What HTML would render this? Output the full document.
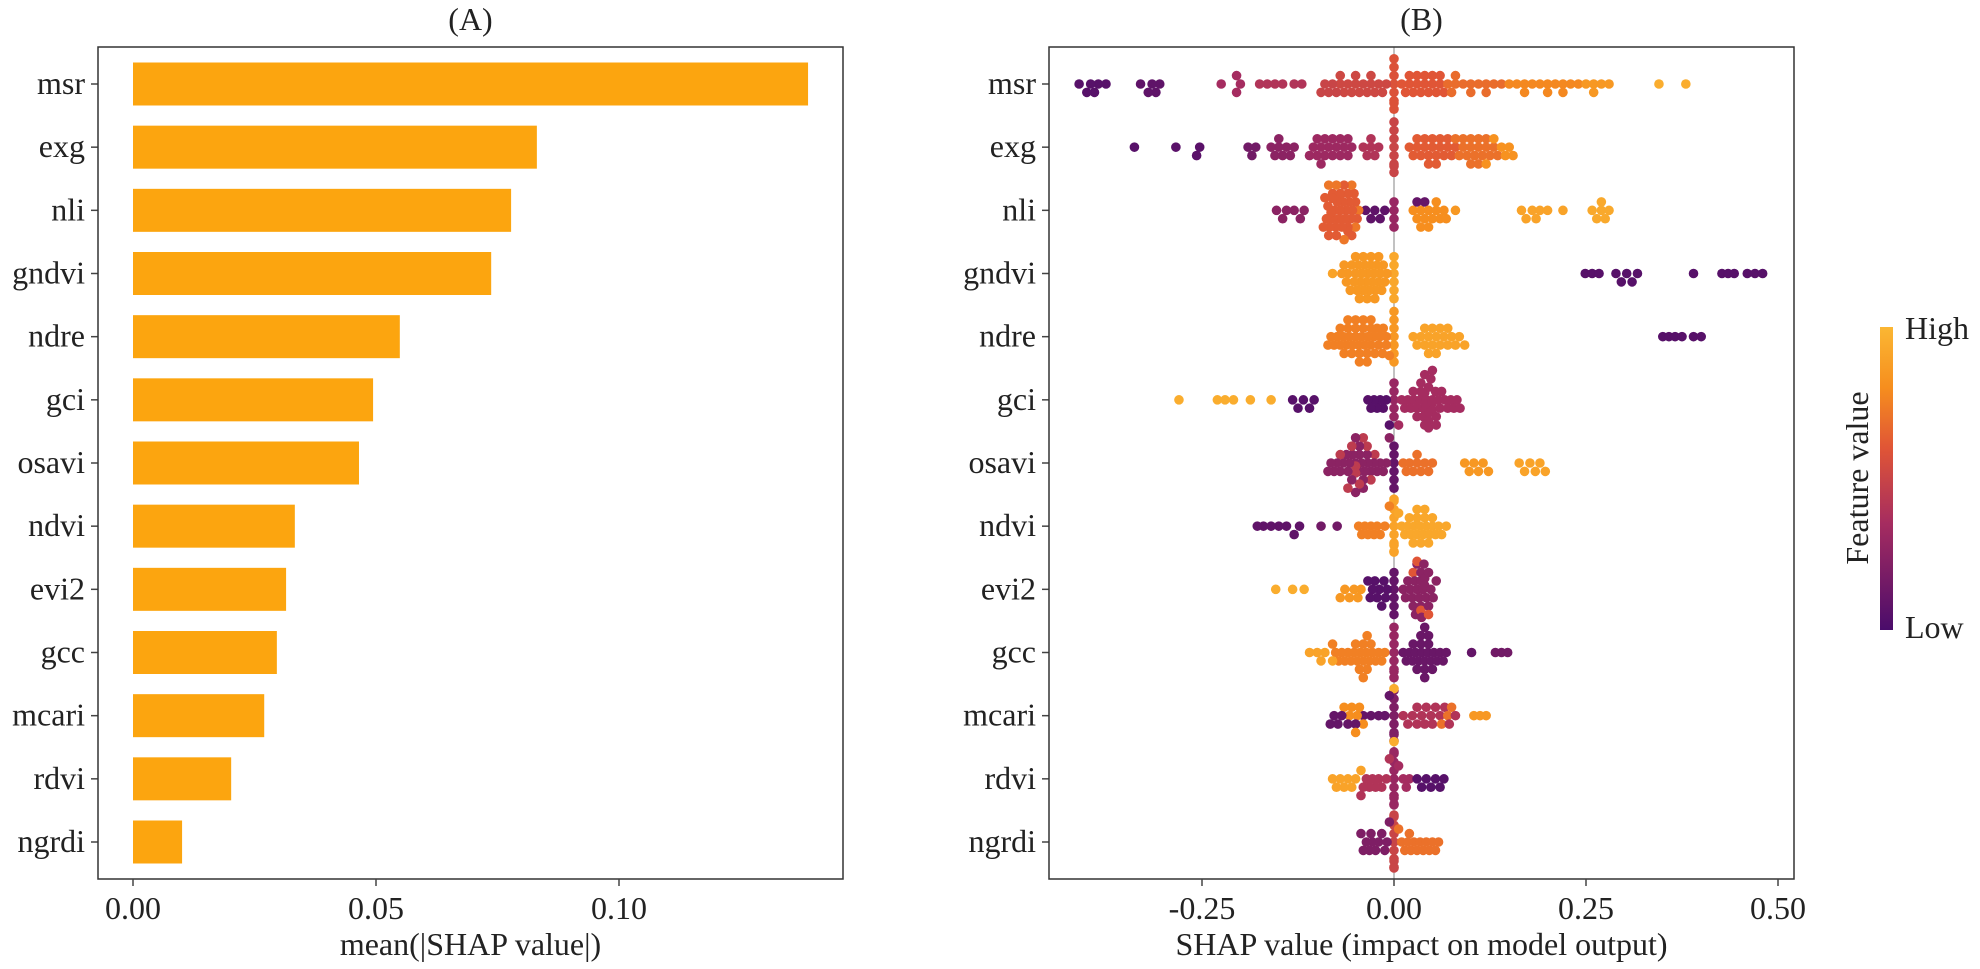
<!DOCTYPE html>
<html><head><meta charset="utf-8"><style>
html,body{margin:0;padding:0;background:#fff;}
svg text{font-family:"Liberation Serif",serif;fill:#222;}
</style></head><body>
<svg id="c" width="1980" height="964" xmlns="http://www.w3.org/2000/svg">
<defs><linearGradient id="cb" x1="0" y1="1" x2="0" y2="0">
<stop offset="0" stop-color="#4a0c6b"/><stop offset="0.35" stop-color="#a52c60"/><stop offset="0.6" stop-color="#e05536"/><stop offset="0.8" stop-color="#f68e1e"/><stop offset="1" stop-color="#fbb733"/></linearGradient></defs>
<g id="pa"></g>
<g id="pb"></g>
<g>
<rect x="1880" y="327" width="13" height="303" fill="url(#cb)"/>
<text x="1905" y="339" font-size="32">High</text>
<text x="1905" y="638" font-size="32">Low</text>
<text transform="translate(1868,478) rotate(-90)" text-anchor="middle" font-size="32">Feature value</text>
</g>
</svg>
<script>
const features = ["msr","exg","nli","gndvi","ndre","gci","osavi","ndvi","evi2","gcc","mcari","rdvi","ngrdi"];
const meanAbs = [0.1389,0.0831,0.0778,0.0737,0.0549,0.0494,0.0465,0.0333,0.0315,0.0296,0.0270,0.0202,0.0101];
const ticksA = [0, 0.05, 0.10];
const tickLabelsA = ["0.00","0.05","0.10"];
const ticksB = [-0.25, 0, 0.25, 0.5];
const tickLabelsB = ["-0.25","0.00","0.25","0.50"];
const msrPts = [[0.05,"-0.41 -0.40 -0.395 -0.39 -0.385 -0.375"],[0.08,"-0.33 -0.32 -0.315 -0.31 -0.305"],[0.35,"-0.225 -0.205 -0.205 -0.2"],[0.4,"-0.175 -0.165 -0.155 -0.145 -0.13 -0.12"],[0.5,"-0.095 -0.09 -0.085 -0.08 -0.075"],[0.52,"-0.07 -0.065 -0.06 -0.055 -0.05 -0.045 -0.04 -0.035 -0.03 -0.025 -0.02 -0.015 -0.01 -0.07 -0.05 -0.03"],[0.58,"0 0 0 0 0 0 0 0"],[0.6,"0.01 0.015 0.02 0.025 0.03 0.035 0.04 0.045 0.05 0.055 0.06 0.065 0.02 0.03 0.04 0.05 0.06"],[0.68,"0.07 0.075 0.08 0.09 0.1 0.11 0.12 0.13 0.14 0.08 0.1 0.12"],[0.78,"0.15 0.16 0.17 0.18 0.19 0.2 0.21 0.22 0.23 0.24 0.17 0.2 0.22"],[0.85,"0.25 0.26 0.27 0.28 0.26"],[0.95,"0.345 0.38"]];
const exgPts = [[0.05,"-0.338"],[0.06,"-0.284 -0.257 -0.253"],[0.15,"-0.19 -0.185 -0.18"],[0.25,"-0.16 -0.155 -0.15 -0.145 -0.14 -0.135 -0.13 -0.15"],[0.32,"-0.11 -0.105 -0.1 -0.095 -0.09 -0.085 -0.08 -0.075 -0.07 -0.065 -0.06 -0.055 -0.1 -0.09 -0.08 -0.07 -0.06 -0.095"],[0.4,"-0.04 -0.035 -0.03 -0.025 -0.02 -0.03"],[0.5,"0 0 0 0 0 0 0 0"],[0.62,"0.02 0.025 0.03 0.035 0.04 0.045 0.05 0.055 0.06 0.065 0.07 0.075 0.08 0.03 0.04 0.05 0.06 0.07 0.045 0.055"],[0.7,"0.08 0.085 0.09 0.095 0.1 0.105 0.11 0.115 0.12 0.125 0.13 0.135 0.09 0.1 0.11 0.12 0.1 0.11"],[0.82,"0.12 0.13 0.14 0.145 0.15 0.155"]];
const nliPts = [[0.25,"-0.153 -0.145 -0.14 -0.13 -0.122 -0.117"],[0.62,"-0.092 -0.09 -0.088 -0.086 -0.084 -0.082 -0.08 -0.078 -0.076 -0.074 -0.072 -0.07 -0.068 -0.066 -0.064 -0.062 -0.06 -0.058 -0.056 -0.054 -0.052 -0.05 -0.048 -0.085 -0.08 -0.075 -0.07 -0.065 -0.06 -0.055 -0.08 -0.07 -0.06"],[0.72,"-0.085 -0.075 -0.065 -0.055 -0.05 -0.046"],[0.08,"-0.037 -0.03 -0.025 -0.018 -0.012"],[0.3,"0 0 0 0"],[0.8,"0.025 0.03 0.035 0.04 0.045 0.05 0.055 0.06 0.065 0.068 0.035 0.045 0.055"],[0.1,"0.03 0.04"],[0.85,"0.08"],[0.9,"0.166 0.172 0.18 0.185 0.19 0.2 0.22"],[0.93,"0.258 0.264 0.27 0.275 0.28 0.27"]];
const gndviPts = [[0.9,"-0.08"],[0.85,"-0.068 -0.065 -0.062 -0.06 -0.057 -0.055 -0.052 -0.05 -0.048 -0.046 -0.044 -0.042 -0.04 -0.038 -0.036 -0.034 -0.032 -0.03 -0.028 -0.026 -0.024 -0.022 -0.02 -0.018 -0.016 -0.014 -0.012 -0.009 -0.05 -0.045 -0.04 -0.035 -0.03 -0.025 -0.02"],[0.92,"0 0 0 0 0 0"],[0.05,"0.249 0.258 0.267 0.289 0.296 0.303 0.31 0.317 0.39 0.427 0.435 0.443 0.46 0.47 0.48"]];
const ndrePts = [[0.75,"-0.086 -0.082 -0.078 -0.074 -0.07 -0.066 -0.062 -0.058 -0.054 -0.05 -0.046 -0.042 -0.038 -0.034 -0.03 -0.026 -0.022 -0.018 -0.014 -0.01 -0.006 -0.07 -0.06 -0.055 -0.05 -0.045 -0.04 -0.035 -0.03 -0.025 -0.05 -0.04 -0.03 -0.045 -0.035 -0.02 -0.06 -0.065 -0.015 -0.01"],[0.85,"0 0 0 0 0 0 0"],[0.9,"0.025 0.03 0.035 0.04 0.045 0.05 0.055 0.06 0.065 0.07 0.075 0.08 0.085 0.092 0.04 0.05 0.06 0.07 0.045 0.055"],[0.05,"0.35 0.358 0.366 0.375 0.39 0.4"]];
const gciPts = [[0.95,"-0.28 -0.23 -0.22 -0.209 -0.187 -0.16"],[0.05,"-0.132 -0.125 -0.118 -0.11 -0.104 -0.034 -0.03 -0.026 -0.022 -0.018 -0.014 -0.01 -0.006"],[0.3,"0 0 0 0 0"],[0.35,"0.006 0.01 0.014 0.018 0.022 0.026 0.03 0.034 0.038 0.042 0.046 0.05 0.054 0.058 0.062 0.066 0.07 0.074 0.078 0.082 0.086 0.03 0.035 0.04 0.045 0.05 0.055 0.04 0.045 0.05 0.035 0.055 0.025 0.06 0.04 0.045 0.05 0.042 0.048 0.038"]];
const osaviPts = [[0.25,"-0.086 -0.082 -0.078 -0.074 -0.07 -0.066 -0.062 -0.058 -0.054 -0.05 -0.046 -0.042 -0.038 -0.034 -0.03 -0.026 -0.022 -0.018 -0.014 -0.01 -0.006 -0.06 -0.055 -0.05 -0.045 -0.04 -0.035 -0.05 -0.045 -0.04"],[0.45,"-0.07 -0.06 -0.05 -0.04 -0.03 -0.045 -0.055 -0.035 -0.025 -0.05"],[0.1,"0 0 0 0 0 0"],[0.7,"0.012 0.016 0.02 0.025 0.03 0.035 0.04 0.045 0.05 0.03"],[0.85,"0.092 0.098 0.104 0.11 0.116 0.123"],[0.9,"0.163 0.17 0.177 0.184 0.19 0.197"]];
const ndviPts = [[0.08,"-0.178 -0.17 -0.16 -0.15 -0.14 -0.13 -0.123"],[0.15,"-0.095 -0.074"],[0.75,"-0.046 -0.042 -0.038 -0.034 -0.03 -0.026 -0.022 -0.018 -0.012 -0.006"],[0.9,"0 0 0 0 0 0 0 0 0 0"],[0.92,"0.006 0.01 0.014 0.018 0.022 0.026 0.03 0.034 0.038 0.042 0.046 0.05 0.054 0.058 0.062 0.068 0.02 0.025 0.03 0.035 0.04 0.045 0.05 0.03 0.04"]];
const evi2Pts = [[0.95,"-0.154 -0.132 -0.117"],[0.85,"-0.07 -0.064 -0.058 -0.052 -0.047 -0.043"],[0.05,"-0.034 -0.031 -0.028 -0.025 -0.022 -0.019 -0.016 -0.013 -0.011 -0.009"],[0.1,"0 0 0 0 0 0"],[0.25,"0.012 0.015 0.018 0.021 0.024 0.027 0.03 0.033 0.036 0.039 0.042 0.045 0.048 0.051 0.055 0.025 0.03 0.035 0.04 0.045 0.03 0.035 0.04 0.035 0.028 0.038"],[0.6,"0.025 0.035 0.045 0.03"]];
const gccPts = [[0.9,"-0.11 -0.1 -0.095 -0.09 -0.08"],[0.75,"-0.08 -0.076 -0.072 -0.068 -0.064 -0.06 -0.056 -0.052 -0.048 -0.044 -0.04 -0.036 -0.032 -0.028 -0.024 -0.02 -0.016 -0.012 -0.05 -0.045 -0.04 -0.035 -0.03 -0.04 -0.035"],[0.3,"0 0 0 0 0 0 0 0"],[0.12,"0.012 0.016 0.02 0.024 0.028 0.032 0.036 0.04 0.044 0.048 0.052 0.056 0.06 0.064 0.068 0.03 0.035 0.04 0.045 0.05 0.035 0.04 0.045 0.04 0.025"],[0.1,"0.101"],[0.15,"0.132 0.14 0.148"]];
const mcariPts = [[0.1,"-0.083 -0.078 -0.073 -0.068 -0.06 -0.05 -0.04 -0.03 -0.02 -0.012 -0.006"],[0.8,"-0.065 -0.058 -0.05 -0.045 -0.04 -0.055 -0.048"],[0.2,"0 0 0 0 0 0 0 0"],[0.95,"0 0"],[0.4,"0.012 0.018 0.024 0.03 0.036 0.042 0.048 0.054 0.06 0.066 0.072 0.08 0.03 0.04 0.05"],[0.7,"0.062 0.07 0.075"],[0.85,"0.104 0.112 0.12"]];
const rdviPts = [[0.9,"-0.08 -0.075 -0.07 -0.065 -0.06 -0.055 -0.05 -0.043"],[0.4,"-0.043 -0.04 -0.036 -0.032 -0.028 -0.024 -0.02 -0.016 -0.01 -0.006"],[0.3,"0 0 0 0 0 0 0 0 0 0"],[0.35,"0.006 0.012 0.016 0.02"],[0.05,"0.03 0.036 0.042 0.048 0.054 0.06 0.065"]];
const ngrdiPts = [[0.2,"-0.043 -0.04 -0.036 -0.032 -0.028 -0.024 -0.02 -0.016 -0.012 -0.009 -0.006 -0.03"],[0.5,"0 0 0 0 0 0 0 0 0 0"],[0.7,"0.006 0.01 0.014 0.018 0.022 0.026 0.03 0.034 0.038 0.042 0.046 0.05 0.054 0.058 0.02"]];
const shapRows = [msrPts,exgPts,nliPts,gndviPts,ndrePts,gciPts,osaviPts,ndviPts,evi2Pts,gccPts,mcariPts,rdviPts,ngrdiPts];

const NS="http://www.w3.org/2000/svg";
function mk(tag, attrs, parent){const e=document.createElementNS(NS,tag);for(const k in attrs)e.setAttribute(k,attrs[k]);parent.appendChild(e);return e;}
const plotTop=47, plotBot=879, row0=84, rowStep=(842-84)/12;
const yRow = i => row0 + i*rowStep;
const aL=98, aR=843;
const xA = v => 133 + v/0.05*243;
const pa=document.getElementById('pa');
meanAbs.forEach((v,i)=>{
  const r=mk('rect',{x:xA(0),y:yRow(i)-21.5,width:xA(v)-xA(0),height:43,fill:'#fca50f'},pa);
  
  
  const t=mk('text',{x:aL-13,y:yRow(i)+10,'text-anchor':'end','font-size':32,fill:'#333'},pa);
  t.textContent=features[i];
  
  
  mk('line',{x1:aL-7,x2:aL,y1:yRow(i),y2:yRow(i),stroke:'#444','stroke-width':1.5},pa);
});
const boxA=mk('rect',{x:aL,y:plotTop,width:aR-aL,height:plotBot-plotTop,fill:'none',stroke:'#333','stroke-width':1.5},pa);


ticksA.forEach((v,i)=>{
  mk('line',{x1:xA(v),x2:xA(v),y1:plotBot,y2:plotBot+7,stroke:'#444','stroke-width':1.5},pa);
  const t=mk('text',{x:xA(v),y:919,'text-anchor':'middle','font-size':32,fill:'#444'},pa);
  t.textContent=tickLabelsA[i];
  
  
});
let tx=mk('text',{x:(aL+aR)/2,y:955,'text-anchor':'middle','font-size':32},pa);
tx.textContent='mean(|SHAP value|)';


tx=mk('text',{x:(aL+aR)/2,y:30,'text-anchor':'middle','font-size':32},pa);
tx.textContent='(A)';



const bL=1049, bR=1794;
const xB = v => 1394 + v*768;
const pb=document.getElementById('pb');
mk('line',{x1:xB(0),x2:xB(0),y1:plotTop,y2:plotBot,stroke:'#999','stroke-width':1.2},pb);
const stops=[[0,[74,12,107]],[0.35,[165,44,96]],[0.6,[224,85,54]],[0.8,[246,142,30]],[1,[251,183,51]]];
function cmap(f){for(let k=1;k<stops.length;k++){if(f<=stops[k][0]){const a=stops[k-1],b=stops[k];const u=(f-a[0])/(b[0]-a[0]);return 'rgb('+a[1].map((c,j)=>Math.round(c+(b[1][j]-c)*u)).join(',')+')';}}return 'rgb(251,183,51)';}
shapRows.forEach((groups,i)=>{
  const pts=[];
  groups.forEach(g=>g[1].split(' ').forEach(s=>pts.push({v:parseFloat(s),f:g[0]})));
  pts.sort((a,b)=>Math.abs(a.v)-Math.abs(b.v));
  const placed=[];
  pts.forEach(p=>{
    const x=xB(p.v);let off=null;
    for(let k=0;k<30;k++){
      const cand=(k%2?1:-1)*Math.ceil(k/2)*4.2;
      if(Math.abs(cand)>33) break;
      if(!placed.some(q=>Math.abs(q.x-x)<5.5&&Math.abs(q.y-cand)<5.5)){off=cand;break;}
    }
    if(off===null) off=((placed.length*7)%60)-30;
    placed.push({x:x,y:off,f:p.f});
  });
  const g=mk('g',{},pb);
  
  
  placed.forEach(p=>{
    const c=mk('circle',{cx:p.x,cy:yRow(i)+p.y,r:4.8,fill:cmap(p.f)},g);
    
    
  });
  const lb=mk('text',{x:bL-13,y:yRow(i)+10,'text-anchor':'end','font-size':32,fill:'#333'},pb);
  lb.textContent=features[i];
  
  
  mk('line',{x1:bL-7,x2:bL,y1:yRow(i),y2:yRow(i),stroke:'#444','stroke-width':1.5},pb);
});
const boxB=mk('rect',{x:bL,y:plotTop,width:bR-bL,height:plotBot-plotTop,fill:'none',stroke:'#333','stroke-width':1.5},pb);


ticksB.forEach((v,i)=>{
  mk('line',{x1:xB(v),x2:xB(v),y1:plotBot,y2:plotBot+7,stroke:'#444','stroke-width':1.5},pb);
  const tt=mk('text',{x:xB(v),y:919,'text-anchor':'middle','font-size':32,fill:'#444'},pb);
  tt.textContent=tickLabelsB[i];
  
  
});
tx=mk('text',{x:(bL+bR)/2,y:955,'text-anchor':'middle','font-size':32},pb);
tx.textContent='SHAP value (impact on model output)';


tx=mk('text',{x:(bL+bR)/2,y:30,'text-anchor':'middle','font-size':32},pb);
tx.textContent='(B)';


</script>
</body></html>
